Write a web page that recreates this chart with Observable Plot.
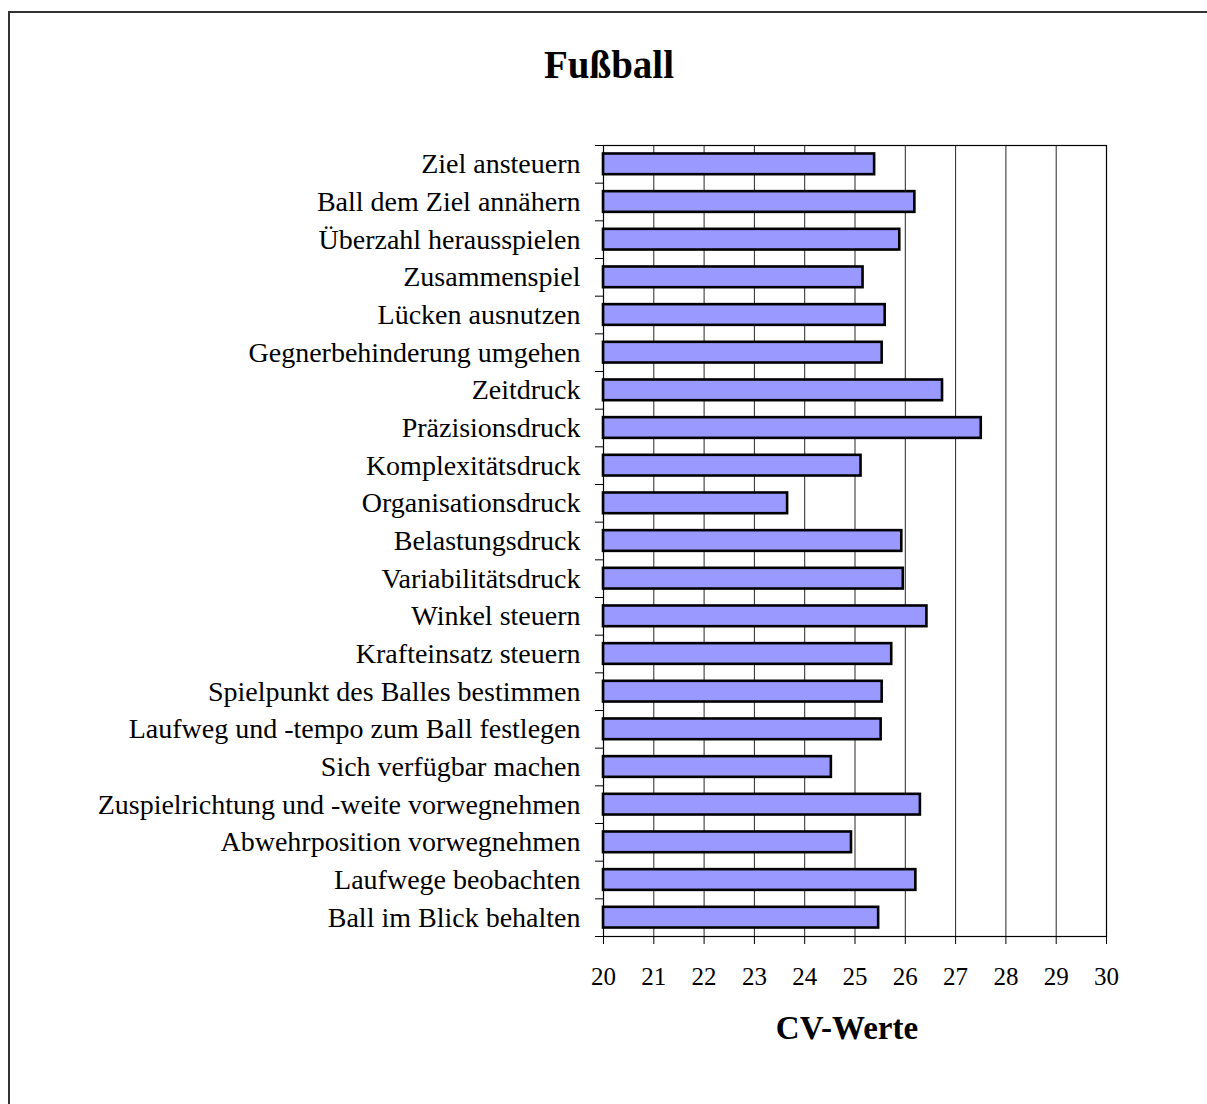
<!DOCTYPE html>
<html>
<head>
<meta charset="utf-8">
<script src="https://cdn.jsdelivr.net/npm/d3@7"></script>
<script src="https://cdn.jsdelivr.net/npm/@observablehq/plot@0.6"></script>
<style>
  html, body { margin: 0; padding: 0; background: #fff; width: 1207px; height: 1104px; overflow: hidden; }
  #frame { position: absolute; left: 8px; top: 11px; width: 1300px; height: 1200px; border-top: 2px solid #333; border-left: 2px solid #333; }
  #title { position: absolute; left: 0; top: 46px; width: 1218px; text-align: center; font-family: "Liberation Serif", serif; font-weight: bold; font-size: 39px; line-height: 38px; color: #000; }
  #chart { position: absolute; left: 0; top: 100px; }
</style>
</head>
<body>
<div id="frame"></div>
<div id="title">Fußball</div>
<div id="chart"></div>
<script>
const categories = [
  "Ziel ansteuern",
  "Ball dem Ziel annähern",
  "Überzahl herausspielen",
  "Zusammenspiel",
  "Lücken ausnutzen",
  "Gegnerbehinderung umgehen",
  "Zeitdruck",
  "Präzisionsdruck",
  "Komplexitätsdruck",
  "Organisationsdruck",
  "Belastungsdruck",
  "Variabilitätsdruck",
  "Winkel steuern",
  "Krafteinsatz steuern",
  "Spielpunkt des Balles bestimmen",
  "Laufweg und -tempo zum Ball festlegen",
  "Sich verfügbar machen",
  "Zuspielrichtung und -weite vorwegnehmen",
  "Abwehrposition vorwegnehmen",
  "Laufwege beobachten",
  "Ball im Blick behalten"
];
const values = [25.39, 26.19, 25.89, 25.16, 25.60, 25.54, 26.74, 27.51, 25.12, 23.66, 25.93, 25.96, 26.43, 25.73, 25.54, 25.52, 24.53, 26.30, 24.93, 26.21, 25.47];
const xTicks = [20, 21, 22, 23, 24, 25, 26, 27, 28, 29, 30];
const xDomain = [20, 30];
const xLabel = "CV-Werte";

const data = categories.map((c, i) => ({cat: c, v: values[i]}));

const W = 1207, H = 1004;
const mL = 603, mR = 101, mT = 45, mB = 168;
const step = (H - mT - mB) / categories.length;
const barH = 20.7;
const inset = (step - barH) / 2;

const plot = Plot.plot({
  width: W,
  height: H,
  marginLeft: mL,
  marginRight: mR,
  marginTop: mT,
  marginBottom: mB,
  style: {fontFamily: "'Liberation Serif', serif", color: "#000", background: "transparent", overflow: "visible"},
  x: {domain: xDomain, ticks: xTicks},
  y: {domain: categories, padding: 0, round: false},
  marks: [
    Plot.gridX(xTicks, {stroke: "#111", strokeOpacity: 0.9, strokeWidth: 1}),
    Plot.barX(data, {x1: () => xDomain[0], x2: "v", y: "cat", insetTop: inset, insetBottom: inset, fill: "#9999FF", stroke: "#000", strokeWidth: 2.6}),
    Plot.frame({stroke: "#000", strokeWidth: 1.2}),
    Plot.axisX(xTicks, {tickSize: 8, tickPadding: 23, fontSize: 25, label: null, stroke: "#000"}),
    Plot.axisY({tickSize: 0, tickPadding: 23, fontSize: 28, label: null}),
    Plot.axisY({tickSize: 8, text: null, label: null, dy: -step / 2, stroke: "#000"}),
    Plot.axisY([categories[categories.length - 1]], {tickSize: 8, text: null, label: null, dy: step / 2, stroke: "#000"}),
    Plot.text([xLabel], {frameAnchor: "bottom", lineAnchor: "bottom", dy: 102, dx: -8, fontSize: 33, fontWeight: "bold", fill: "#000"})
  ]
});
document.getElementById("chart").appendChild(plot);
</script>
</body>
</html>
